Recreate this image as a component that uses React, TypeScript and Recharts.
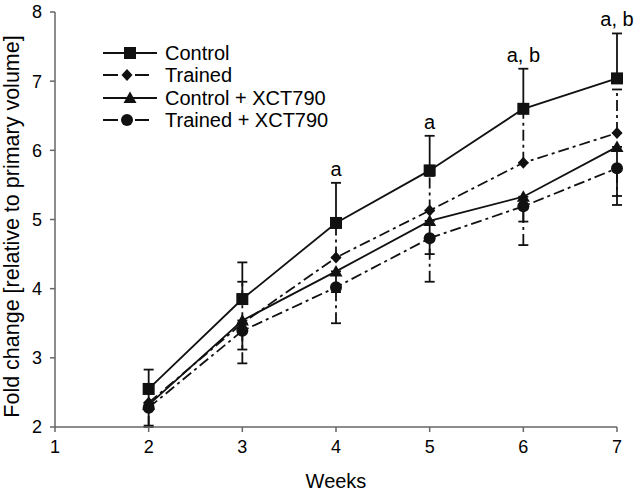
import React from "react";
import {
  LineChart,
  Line,
  XAxis,
  YAxis,
  ErrorBar,
  ReferenceDot,
  Label,
} from "recharts";

// values
const weeks = [2, 3, 4, 5, 6, 7];
const control = [2.55, 3.85, 4.95, 5.71, 6.6, 7.04];
const trained = [2.35, 3.5, 4.45, 5.13, 5.82, 6.25];
const controlXct = [2.32, 3.54, 4.25, 4.98, 5.33, 6.05];
const trainedXct = [2.28, 3.39, 4.02, 4.73, 5.19, 5.74];

// one-sided error bars (up for the first two groups, down for the others)
const controlErrUp = [0.28, 0.53, 0.58, 0.5, 0.58, 0.65];
const trainedErrUp = [0.2, 0.6, 0.45, 0.5, 0.72, 0.63];
const controlXctErrDown = [0.3, 0.42, 0.3, 0.48, 0.36, 0.71];
const trainedXctErrDown = [0.28, 0.47, 0.52, 0.63, 0.56, 0.53];

const xTicks = [1, 2, 3, 4, 5, 6, 7];
const yTicks = [2, 3, 4, 5, 6, 7, 8];

const annoWeeks = [4, 5, 6, 7];
const annoText = ["a", "a", "a, b", "a, b"];

const FONT = "'Liberation Sans', Arial, Helvetica, sans-serif";
const INK = "#111";
const AXIS = "#666";
const DASHDOT = "11 4 3 4";

type Shape = "square" | "diamond" | "triangle" | "circle";

const series: { key: string; name: string; shape: Shape; dashed: boolean }[] = [
  { key: "control", name: "Control", shape: "square", dashed: false },
  { key: "trained", name: "Trained", shape: "diamond", dashed: true },
  { key: "controlXct", name: "Control + XCT790", shape: "triangle", dashed: false },
  { key: "trainedXct", name: "Trained + XCT790", shape: "circle", dashed: true },
];

const data = weeks.map((w, i) => ({
  week: w,
  control: control[i],
  trained: trained[i],
  controlXct: controlXct[i],
  trainedXct: trainedXct[i],
  controlErr: [0, controlErrUp[i]],
  trainedErr: [0, trainedErrUp[i]],
  controlXctErr: [controlXctErrDown[i], 0],
  trainedXctErr: [trainedXctErrDown[i], 0],
}));

const Marker = ({ shape, cx, cy }: { shape: Shape; cx: number; cy: number }) => {
  if (cx == null || cy == null) return null;
  switch (shape) {
    case "square":
      return <rect x={cx - 6} y={cy - 6} width={12} height={12} fill={INK} />;
    case "diamond":
      return (
        <polygon
          points={`${cx},${cy - 6} ${cx + 5.5},${cy} ${cx},${cy + 6} ${cx - 5.5},${cy}`}
          fill={INK}
        />
      );
    case "triangle":
      return (
        <polygon
          points={`${cx},${cy - 6.5} ${cx + 6.5},${cy + 5} ${cx - 6.5},${cy + 5}`}
          fill={INK}
        />
      );
    default:
      return <circle cx={cx} cy={cy} r={6} fill={INK} />;
  }
};

const dotFor = (shape: Shape) => (p: any) =>
  <Marker key={`${shape}-${p.index}`} shape={shape} cx={p.cx} cy={p.cy} />;

const LegendBox = () => (
  <div
    style={{
      position: "absolute",
      left: 103,
      top: 42,
      fontFamily: FONT,
      fontSize: 20,
      color: "#000",
    }}
  >
    {series.map((s) => (
      <div
        key={s.key}
        style={{ display: "flex", alignItems: "center", height: 22.3 }}
      >
        <svg width={56} height={20} style={{ marginRight: 6 }}>
          {s.dashed ? (
            <>
              <line x1={0} y1={10} x2={15} y2={10} stroke={INK} strokeWidth={2} />
              <line x1={32} y1={10} x2={46} y2={10} stroke={INK} strokeWidth={2} />
            </>
          ) : (
            <line x1={0} y1={10} x2={54} y2={10} stroke={INK} strokeWidth={2} />
          )}
          <Marker shape={s.shape} cx={s.dashed ? 24 : 27} cy={10} />
        </svg>
        <span style={{ lineHeight: "20px" }}>{s.name}</span>
      </div>
    ))}
  </div>
);

const YTitle = (props: any) => {
  const vb = props.viewBox || {};
  const cx = 12;
  const cy = (vb.y ?? 0) + (vb.height ?? 0) / 2 + 7;
  return (
    <text
      x={cx}
      y={cy}
      transform={`rotate(-90 ${cx} ${cy})`}
      textAnchor="middle"
      dominantBaseline="central"
      fontFamily={FONT}
      fontSize={21.5}
      fill="#000"
    >
      Fold change [relative to primary volume]
    </text>
  );
};

export default function App() {
  const tickStyle = { fontSize: 18, fill: "#000", fontFamily: FONT };
  return (
    <div
      style={{
        position: "absolute",
        left: 0,
        top: 0,
        width: 639,
        height: 492,
        background: "#fff",
      }}
    >
      <LineChart
        width={639}
        height={492}
        data={data}
        margin={{ top: 12, right: 22, bottom: 0, left: 0 }}
      >
        <XAxis
          dataKey="week"
          type="number"
          domain={[1, 7]}
          ticks={xTicks}
          tickSize={5}
          tickMargin={8}
          height={65}
          axisLine={{ stroke: AXIS, strokeWidth: 1.5 }}
          tickLine={{ stroke: AXIS, strokeWidth: 1.5 }}
          tick={tickStyle}
        >
          <Label
            value="Weeks"
            position="insideBottom"
            offset={4}
            fontSize={20}
            fill="#000"
            fontFamily={FONT}
          />
        </XAxis>
        <YAxis
          type="number"
          domain={[2, 8]}
          ticks={yTicks}
          tickSize={5}
          tickMargin={8}
          width={55}
          axisLine={{ stroke: AXIS, strokeWidth: 1.5 }}
          tickLine={{ stroke: AXIS, strokeWidth: 1.5 }}
          tick={tickStyle}
        >
          <Label content={YTitle} />
        </YAxis>

        <Line
          dataKey="trainedXct"
          stroke={INK}
          strokeWidth={1.8}
          strokeDasharray={DASHDOT}
          dot={dotFor("circle")}
          activeDot={false}
          isAnimationActive={false}
        >
          <ErrorBar
            dataKey="trainedXctErr"
            direction="y"
            width={5}
            stroke={INK}
            strokeWidth={1.8}
            strokeDasharray={DASHDOT}
          />
        </Line>
        <Line
          dataKey="controlXct"
          stroke={INK}
          strokeWidth={1.8}
          dot={dotFor("triangle")}
          activeDot={false}
          isAnimationActive={false}
        >
          <ErrorBar
            dataKey="controlXctErr"
            direction="y"
            width={5}
            stroke={INK}
            strokeWidth={1.8}
          />
        </Line>
        <Line
          dataKey="trained"
          stroke={INK}
          strokeWidth={1.8}
          strokeDasharray={DASHDOT}
          dot={dotFor("diamond")}
          activeDot={false}
          isAnimationActive={false}
        >
          <ErrorBar
            dataKey="trainedErr"
            direction="y"
            width={5}
            stroke={INK}
            strokeWidth={1.8}
            strokeDasharray={DASHDOT}
          />
        </Line>
        <Line
          dataKey="control"
          stroke={INK}
          strokeWidth={1.8}
          dot={dotFor("square")}
          activeDot={false}
          isAnimationActive={false}
        >
          <ErrorBar
            dataKey="controlErr"
            direction="y"
            width={5}
            stroke={INK}
            strokeWidth={1.8}
          />
        </Line>

        {annoWeeks.map((w, i) => {
          const idx = weeks.indexOf(w);
          return (
            <ReferenceDot
              key={`anno-${w}`}
              x={w}
              y={control[idx] + controlErrUp[idx]}
              r={0}
              fill="none"
              stroke="none"
              label={{
                value: annoText[i],
                position: "top",
                offset: 7,
                fontSize: 20,
                fill: "#000",
                fontFamily: FONT,
              }}
            />
          );
        })}
      </LineChart>
      <LegendBox />
    </div>
  );
}
